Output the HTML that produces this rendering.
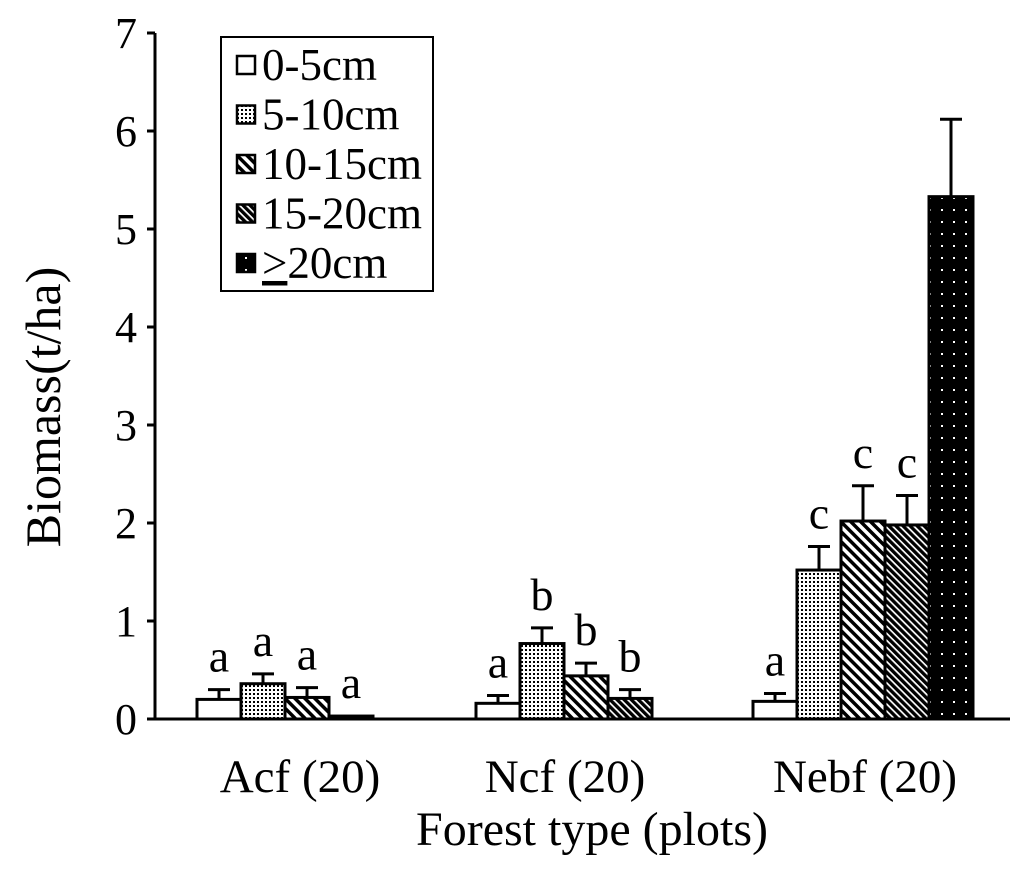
<!DOCTYPE html>
<html><head><meta charset="utf-8"><style>
body{margin:0;background:#fff}
svg{display:block;font-family:"Liberation Serif",serif}
</style></head><body>
<svg id="chart" width="1024" height="880" viewBox="0 0 1024 880">
<defs>
<pattern id="p1" width="4" height="4" patternUnits="userSpaceOnUse"><rect width="4" height="4" fill="#fff"/><rect x="1" y="1" width="2" height="2" fill="#000"/></pattern>
<pattern id="p2" width="7" height="7" patternUnits="userSpaceOnUse" patternTransform="rotate(-45)"><rect width="7" height="7" fill="#fff"/><rect width="3.5" height="7" fill="#000"/></pattern>
<pattern id="p3" width="5" height="5" patternUnits="userSpaceOnUse" patternTransform="rotate(-45)"><rect width="5" height="5" fill="#fff"/><rect width="3.3" height="5" fill="#000"/></pattern>
<pattern id="p4" width="12" height="12" patternUnits="userSpaceOnUse"><rect width="12" height="12" fill="#000"/><rect x="5" y="5" width="2" height="2" fill="#fff"/></pattern>
</defs>
<g id="plot"></g>
</svg>
<script>
const categories=["Acf (20)","Ncf (20)","Nebf (20)"];
const seriesNames=["0-5cm","5-10cm","10-15cm","15-20cm","≥20cm"];
const acfValues=[0.2,0.36,0.22,0.03];
const acfErrors=[0.1,0.1,0.1,0];
const acfLetters=["a","a","a","a"];
const ncfValues=[0.16,0.77,0.44,0.21];
const ncfErrors=[0.08,0.16,0.13,0.09];
const ncfLetters=["a","b","b","b"];
const nebfValues=[0.18,1.52,2.02,1.98,5.33];
const nebfErrors=[0.08,0.24,0.36,0.3,0.79];
const nebfLetters=["a","c","c","c",""];
const yTicks=[0,1,2,3,4,5,6,7];
const groups=[[acfValues,acfErrors,acfLetters],[ncfValues,ncfErrors,ncfLetters],[nebfValues,nebfErrors,nebfLetters]];
const fills=["#fff","url(#p1)","url(#p2)","url(#p3)","url(#p4)"];
const NS="http://www.w3.org/2000/svg";
const g=document.getElementById('plot');
const y0=719,yTop=33,x0=155,x1=1010;
const y=v=>y0-(v/7)*(y0-yTop);
const groupStart=[197,476,753],barW=44;
const xBar=(gi,si)=>groupStart[gi]+si*barW;
function el(t,a,txt){const e=document.createElementNS(NS,t);for(const k in a)e.setAttribute(k,a[k]);if(txt!==undefined)e.textContent=txt;g.appendChild(e);return e;}
groups.forEach((grp,gi)=>{
  const [vals,errs,lets]=grp;
  vals.forEach((v,si)=>{
    const x=xBar(gi,si);
    const top=y(v+errs[si]);
    if(errs[si]>0){
      const l=el('line',{x1:x+barW/2,x2:x+barW/2,y1:y(v),y2:top,stroke:'#000','stroke-width':3});
      
      
      const c=el('line',{x1:x+barW/2-11,x2:x+barW/2+11,y1:top,y2:top,stroke:'#000','stroke-width':3});
      
      
    }
    const r=el('rect',{x:x,y:y(v),width:barW,height:Math.max(y0-y(v),1),fill:fills[si],stroke:'#000','stroke-width':3});
    
    
    if(lets[si]){
      const t=el('text',{x:x+barW/2,y:top-18,'font-size':46,'text-anchor':'middle'},lets[si]);
      
      
    }
  });
});
const ya=el('line',{x1:x0,x2:x0,y1:yTop,y2:y0,stroke:'#000','stroke-width':3});


const xa=el('line',{x1:x0-8,x2:x1,y1:y0,y2:y0,stroke:'#000','stroke-width':3});


yTicks.forEach(v=>{
  const tk=el('line',{x1:x0-8,x2:x0,y1:y(v),y2:y(v),stroke:'#000','stroke-width':3});
  
  
  const t=el('text',{x:137,y:y(v)+15,'font-size':44,'text-anchor':'end'},String(v));
  
  
});
const catCenters=[300,565,865];
categories.forEach((c,i)=>{
  const t=el('text',{x:catCenters[i],y:792,'font-size':47,'text-anchor':'middle'},c);
  
  
});
const xt=el('text',{x:592,y:845,'font-size':48,'text-anchor':'middle'},'Forest type (plots)');


const yt=el('text',{x:0,y:0,'font-size':50,'text-anchor':'middle',transform:'translate(60,407) rotate(-90)'},'Biomass(t/ha)');


const lb=el('rect',{x:221,y:37,width:212,height:254,fill:'#fff',stroke:'#000','stroke-width':2});


seriesNames.forEach((s,i)=>{
  const cy=65+i*49.5;
  const sw=el('rect',{x:237,y:cy-9,width:18,height:18,fill:fills[i],stroke:'#000','stroke-width':2.5});
  
  
  const t=el('text',{x:262,y:cy+15,'font-size':45},'');
  if(s.startsWith('≥')){t.innerHTML='<tspan text-decoration="underline">&gt;</tspan>20cm';}else t.textContent=s;
  
  
});
</script>
</body></html>
